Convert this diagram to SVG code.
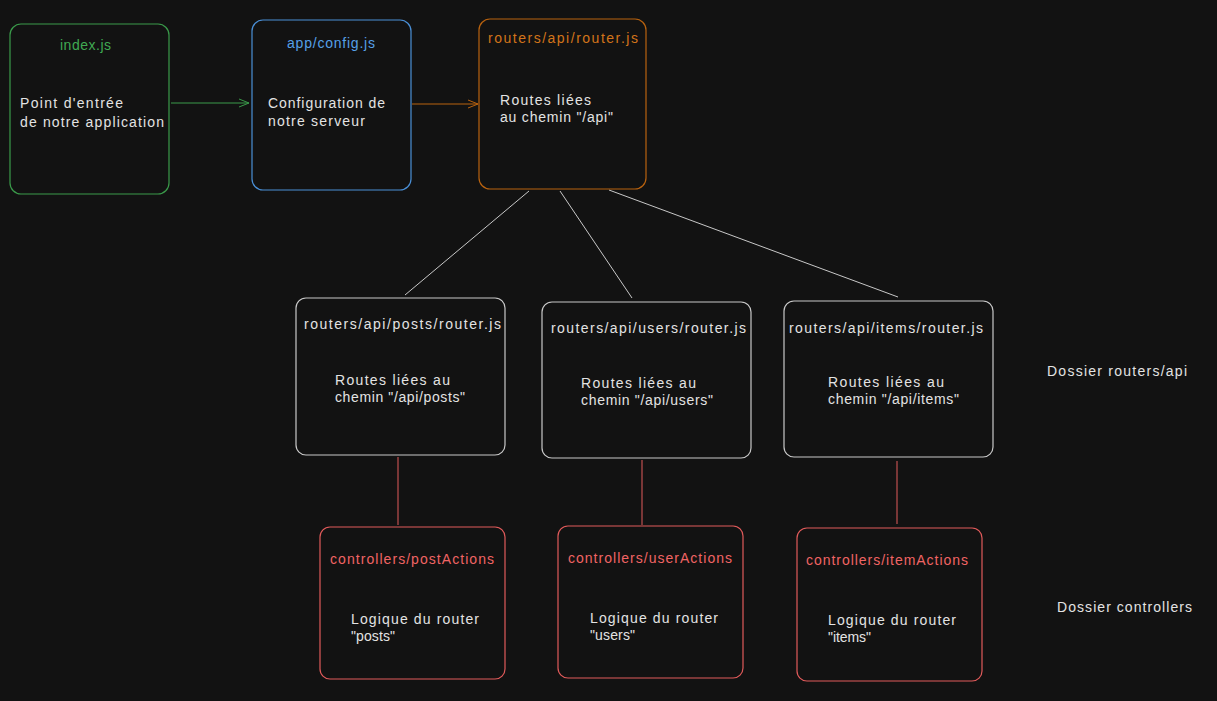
<svg xmlns="http://www.w3.org/2000/svg" width="1217" height="701" viewBox="0 0 1217 701">
<defs>
<style>
.bg{fill:#121212}
.box{fill:#121212;stroke-width:1.2}
text{font-family:"Liberation Sans","DejaVu Sans",sans-serif;font-size:14px;fill:#e3e3e3}
.g{stroke:#3a9a4a}.gt{fill:#40a952}
.b{stroke:#4a8fd6}.bt{fill:#56a0e8}
.o{stroke:#b8620f}.ot{fill:#d2741a}
.w{stroke:#c8c8c8}
.r{stroke:#e05a5a}.rt{fill:#f06464}
.ln{fill:none;stroke-width:1}
</style>
<marker id="ag" markerWidth="12" markerHeight="10" refX="10" refY="5" orient="auto" markerUnits="userSpaceOnUse"><path d="M0,1 L10,5 L0,9" fill="none" stroke="#3a9a4a" stroke-width="1"/></marker>
<marker id="ao" markerWidth="12" markerHeight="10" refX="10" refY="5" orient="auto" markerUnits="userSpaceOnUse"><path d="M0,1 L10,5 L0,9" fill="none" stroke="#b8620f" stroke-width="1"/></marker>
</defs>
<rect class="bg" x="0" y="0" width="1217" height="701"/>
<g id="connectors">
<line class="ln g" x1="171" y1="103" x2="249" y2="103" marker-end="url(#ag)"/>
<line class="ln o" x1="412" y1="104" x2="478" y2="104" marker-end="url(#ao)"/>
<line class="ln w" x1="529" y1="191" x2="405" y2="295"/>
<line class="ln w" x1="560" y1="191" x2="632" y2="298"/>
<line class="ln w" x1="609" y1="190" x2="898" y2="297"/>
<line class="ln r" x1="398" y1="457" x2="398" y2="525"/>
<line class="ln r" x1="642" y1="460" x2="642" y2="525"/>
<line class="ln r" x1="897" y1="461" x2="897" y2="524"/>
</g>
<g id="index">
<rect class="box g" x="10" y="24" width="159" height="170" rx="11"/>
<text class="gt" x="85.5" y="50" text-anchor="middle" textLength="51">index.js</text>
<text x="20" y="108" textLength="103">Point d'entrée</text>
<text x="20" y="127" textLength="144">de notre application</text>
</g>
<g id="config">
<rect class="box b" x="252" y="20" width="159" height="170" rx="11"/>
<text class="bt" x="331" y="48" text-anchor="middle" textLength="88">app/config.js</text>
<text x="268" y="108" textLength="117">Configuration de</text>
<text x="268" y="126" textLength="97">notre serveur</text>
</g>
<g id="router">
<rect class="box o" x="479" y="19" width="167" height="170" rx="11"/>
<text class="ot" x="563" y="43" text-anchor="middle" textLength="150">routers/api/router.js</text>
<text x="500" y="105" textLength="91">Routes liées</text>
<text x="500" y="122" textLength="113">au chemin "/api"</text>
</g>
<g id="posts-router">
<rect class="box w" x="296" y="298" width="209" height="157" rx="10"/>
<text x="304" y="329" textLength="197">routers/api/posts/router.js</text>
<text x="335" y="385" textLength="115">Routes liées au</text>
<text x="335" y="402" textLength="130">chemin "/api/posts"</text>
</g>
<g id="users-router">
<rect class="box w" x="542" y="302" width="209" height="156" rx="10"/>
<text x="551" y="333" textLength="195">routers/api/users/router.js</text>
<text x="581" y="388" textLength="115">Routes liées au</text>
<text x="581" y="405" textLength="132">chemin "/api/users"</text>
</g>
<g id="items-router">
<rect class="box w" x="784" y="301" width="209" height="156" rx="10"/>
<text x="789" y="333" textLength="194">routers/api/items/router.js</text>
<text x="828" y="387" textLength="116">Routes liées au</text>
<text x="828" y="404" textLength="131">chemin "/api/items"</text>
</g>
<g id="label-routers">
<text x="1047" y="376" textLength="140">Dossier routers/api</text>
</g>
<g id="postActions">
<rect class="box r" x="320" y="527" width="185" height="152" rx="10"/>
<text class="rt" x="330" y="564" textLength="164">controllers/postActions</text>
<text x="351" y="624" textLength="128">Logique du router</text>
<text x="351" y="641" textLength="44">"posts"</text>
</g>
<g id="userActions">
<rect class="box r" x="558" y="526" width="185" height="152" rx="10"/>
<text class="rt" x="568" y="563" textLength="164">controllers/userActions</text>
<text x="590" y="623" textLength="128">Logique du router</text>
<text x="590" y="640" textLength="45">"users"</text>
</g>
<g id="itemActions">
<rect class="box r" x="797" y="528" width="185" height="153" rx="10"/>
<text class="rt" x="806" y="565" textLength="162">controllers/itemActions</text>
<text x="828" y="625" textLength="128">Logique du router</text>
<text x="828" y="642" textLength="43">"items"</text>
</g>
<g id="label-controllers">
<text x="1057" y="612" textLength="135">Dossier controllers</text>
</g>
</svg>
